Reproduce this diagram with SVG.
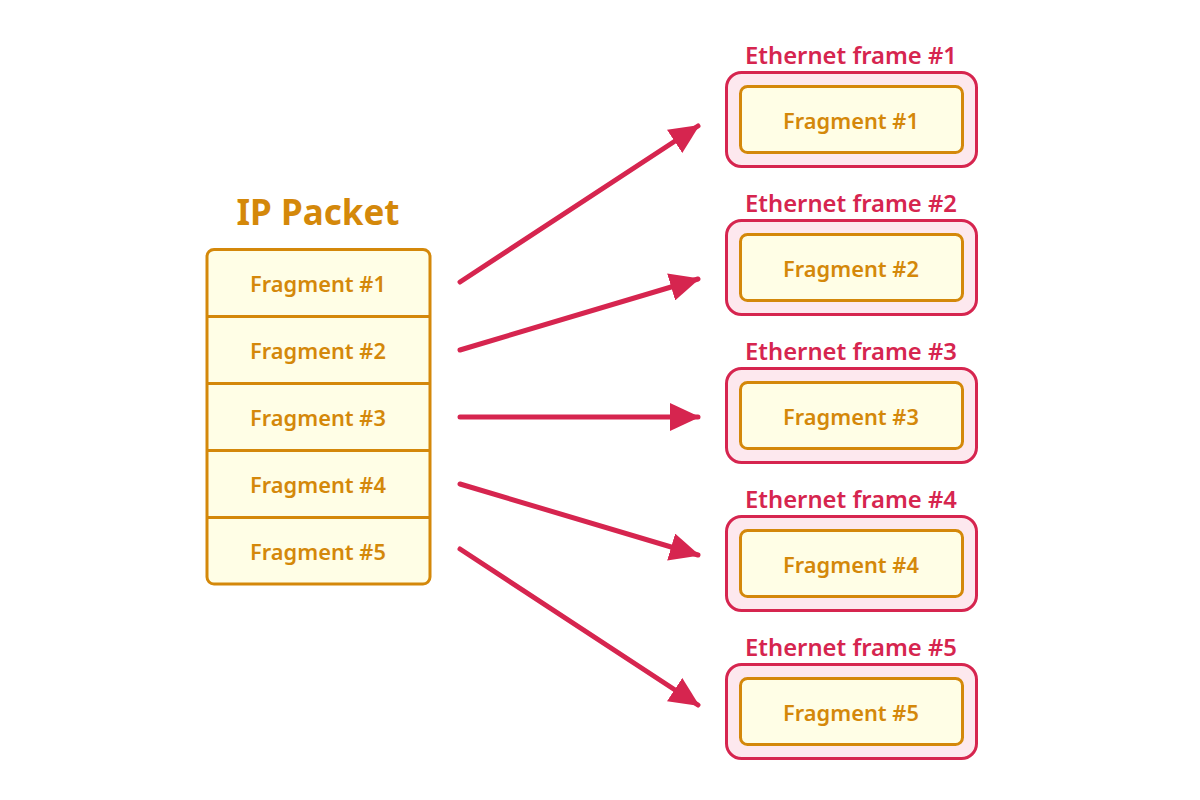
<svg xmlns="http://www.w3.org/2000/svg" width="1200" height="800" viewBox="0 0 1200 800">
<defs>
<style>
.pk{fill:#fffee6;stroke:#d4880a;stroke-width:3}
.sep{stroke:#d4880a;stroke-width:3}
.fr{fill:#fde8ee;stroke:#d6254f;stroke-width:3}
.ft{font-family:"Noto Sans","Open Sans",sans-serif;font-weight:600;font-size:21.8px;fill:#d4880a;text-anchor:middle}
.et{font-family:"Noto Sans","Open Sans",sans-serif;font-weight:600;font-size:23.8px;fill:#d6254f;text-anchor:middle}
.ttl{font-family:"Noto Sans","Open Sans",sans-serif;font-weight:700;font-size:35px;fill:#d4880a;text-anchor:middle}
.ar{stroke:#d6254f;stroke-width:5;stroke-linecap:round;fill:none;marker-end:url(#ah)}
</style>
<marker id="ah" markerUnits="userSpaceOnUse" markerWidth="30" markerHeight="28" refX="28" refY="14" orient="auto">
<path d="M0,0 L30,14 L0,28 Z" fill="#d6254f"/>
</marker>
</defs>
<rect width="1200" height="800" fill="#fff"/>
<g id="ip-packet">
<text class="ttl" x="318" y="225">IP Packet</text>
<rect class="pk" x="207" y="249.5" width="223" height="334.5" rx="7"/>
<line class="sep" x1="207" y1="316.5" x2="430" y2="316.5"/>
<line class="sep" x1="207" y1="383.5" x2="430" y2="383.5"/>
<line class="sep" x1="207" y1="450.5" x2="430" y2="450.5"/>
<line class="sep" x1="207" y1="517.5" x2="430" y2="517.5"/>
<text class="ft" x="318" y="292">Fragment #1</text>
<text class="ft" x="318" y="359">Fragment #2</text>
<text class="ft" x="318" y="426">Fragment #3</text>
<text class="ft" x="318" y="493">Fragment #4</text>
<text class="ft" x="318" y="560">Fragment #5</text>
</g>
<g id="frame1">
<text class="et" x="851" y="64">Ethernet frame #1</text>
<rect class="fr" x="726.5" y="72.5" width="250" height="94" rx="15"/>
<rect class="pk" x="740.5" y="86.5" width="222" height="66" rx="7"/>
<text class="ft" x="851" y="129">Fragment #1</text>
</g>
<g id="frame2">
<text class="et" x="851" y="212">Ethernet frame #2</text>
<rect class="fr" x="726.5" y="220.5" width="250" height="94" rx="15"/>
<rect class="pk" x="740.5" y="234.5" width="222" height="66" rx="7"/>
<text class="ft" x="851" y="277">Fragment #2</text>
</g>
<g id="frame3">
<text class="et" x="851" y="360">Ethernet frame #3</text>
<rect class="fr" x="726.5" y="368.5" width="250" height="94" rx="15"/>
<rect class="pk" x="740.5" y="382.5" width="222" height="66" rx="7"/>
<text class="ft" x="851" y="425">Fragment #3</text>
</g>
<g id="frame4">
<text class="et" x="851" y="508">Ethernet frame #4</text>
<rect class="fr" x="726.5" y="516.5" width="250" height="94" rx="15"/>
<rect class="pk" x="740.5" y="530.5" width="222" height="66" rx="7"/>
<text class="ft" x="851" y="573">Fragment #4</text>
</g>
<g id="frame5">
<text class="et" x="851" y="656">Ethernet frame #5</text>
<rect class="fr" x="726.5" y="664.5" width="250" height="94" rx="15"/>
<rect class="pk" x="740.5" y="678.5" width="222" height="66" rx="7"/>
<text class="ft" x="851" y="721">Fragment #5</text>
</g>
<g id="connectors">
<line class="ar" x1="460" y1="282" x2="698" y2="126"/>
<line class="ar" x1="460" y1="350" x2="698" y2="279"/>
<line class="ar" x1="460" y1="417" x2="698" y2="417"/>
<line class="ar" x1="460" y1="484" x2="698" y2="555"/>
<line class="ar" x1="460" y1="549" x2="698" y2="705"/>
</g>
</svg>
